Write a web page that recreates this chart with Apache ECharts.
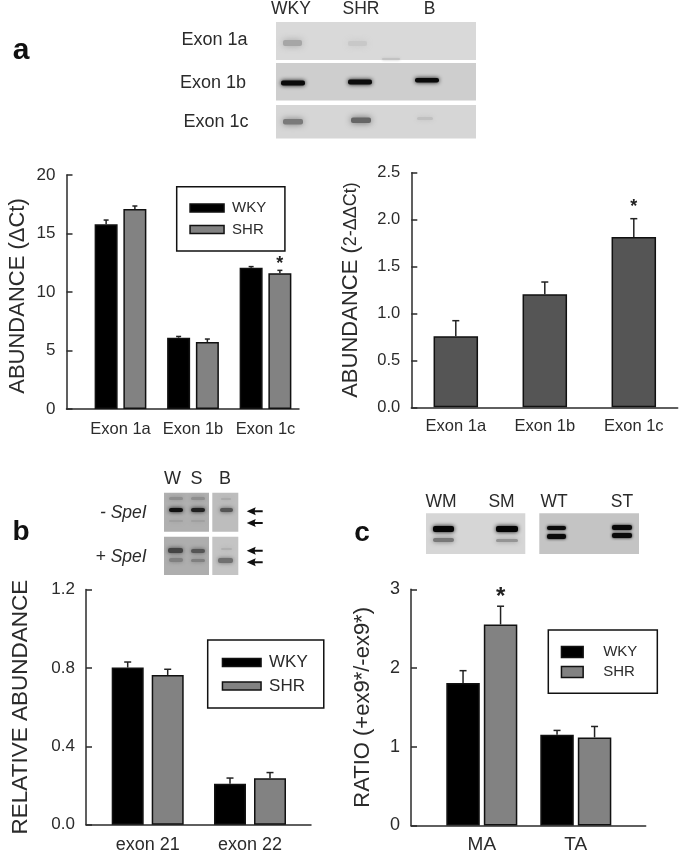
<!DOCTYPE html>
<html>
<head>
<meta charset="utf-8">
<style>html,body{margin:0;padding:0;background:#fff}#c{width:680px;height:853px}</style>
<script src="https://cdn.jsdelivr.net/npm/echarts@6/dist/echarts.min.js"></script>
</head>
<body>
<div id="c"></div>
<script>
// ---------- data ----------
const exonCats = ['Exon 1a', 'Exon 1b', 'Exon 1c'];
const deltaWky = [15.78, 6.1, 12.08];
const deltaWkyTop = [16.15, 6.2, 12.17];
const deltaShr = [17.09, 5.73, 11.6];
const deltaShrTop = [17.35, 5.98, 11.85];
const ddVals = [0.756, 1.204, 1.815];
const ddTop = [0.923, 1.335, 2.01];
const relCats = ['exon 21', 'exon 22'];
const relWky = [0.802, 0.209];
const relWkyTop = [0.83, 0.238];
const relShr = [0.764, 0.237];
const relShrTop = [0.793, 0.266];
const ratioCats = ['MA', 'TA'];
const ratioWky = [1.81, 1.152];
const ratioWkyTop = [1.966, 1.207];
const ratioShr = [2.553, 1.118];
const ratioShrTop = [2.785, 1.257];

const FONT = '"Liberation Sans", Arial, sans-serif';
const INK = '#2b2b2b';
const BLACK = '#000000';
const GREY = '#828282';
const DARK = '#555555';

const grid = [], xAxis = [], yAxis = [], series = [], legend = [], graphic = [];

function panel(p) {
  const i = grid.length;
  const left = p.axisX, width = p.endX - p.axisX;
  grid.push({left, width, top: p.topY, height: p.zeroY - p.topY, containLabel: false, outerBoundsMode: 'none'});
  const xMin = -(p.firstCenter - p.axisX) / p.spacing;
  xAxis.push({
    type: 'value', gridIndex: i, min: xMin, max: xMin + width / p.spacing, splitLine: {show: false},
    axisLine: {show: true, onZero: false, lineStyle: {color: INK, width: 1.5}},
    axisTick: {show: false},
    axisLabel: {customValues: p.cats.map((_, k) => k), formatter: v => p.cats[v],
      color: INK, fontFamily: FONT, fontSize: p.xFont, margin: p.xMargin, hideOverlap: false}
  });
  yAxis.push({
    type: 'value', gridIndex: i, min: 0, max: p.yMax, interval: p.yStep, splitLine: {show: false},
    axisLine: {show: true, onZero: false, lineStyle: {color: INK, width: 1.5}},
    axisTick: {show: true, inside: true, length: 6, lineStyle: {color: INK, width: 1.5}},
    axisLabel: {color: INK, fontFamily: FONT, fontSize: p.yFont, margin: 11, formatter: p.yFmt},
    name: p.yName, nameLocation: 'middle', nameGap: p.nameGap, nameMoveOverlap: false,
    nameTextStyle: Object.assign({color: INK, fontFamily: FONT, fontSize: p.nameFont, padding: p.namePad}, p.nameExtra || {})
  });
  p.bars.forEach((b, k) => {
    series.push({
      type: 'bar', name: b.name, xAxisIndex: i, yAxisIndex: i, barWidth: p.barWidth, barGap: p.barGap,
      itemStyle: {color: b.color, borderColor: '#111', borderWidth: 1.5},
      data: b.vals.map((v, c) => [c, v]), silent: true
    });
    const off = p.bars.length === 1 ? 0 : (k === 0 ? -1 : 1) * p.barWidth * (1 + parseFloat(p.barGap) / 100) / 2;
    series.push({
      type: 'custom', name: b.name + ' error', xAxisIndex: i, yAxisIndex: i, silent: true, clip: false, z: 1,
      data: b.vals.map((v, c) => [c, v, b.tops[c]]),
      renderItem(params, api) {
        const c = api.value(0);
        const a = api.coord([c, api.value(1)]), t = api.coord([c, api.value(2)]);
        const x = a[0] + off, st = {stroke: '#222', lineWidth: 1.5};
        const kids = [
          {type: 'line', shape: {x1: x, y1: a[1], x2: x, y2: t[1]}, style: st},
          {type: 'line', shape: {x1: x - p.cap, y1: t[1], x2: x + p.cap, y2: t[1]}, style: st}
        ];
        if (b.star === c) kids.push({type: 'text', style: {text: '*', x, y: t[1] - p.starGap, fill: '#222',
          font: 'bold ' + p.starFont + 'px ' + FONT, textAlign: 'center', textVerticalAlign: 'middle'}});
        return {type: 'group', children: kids};
      }
    });
  });
  if (p.legend) legend.push(Object.assign({
    orient: 'vertical', selectedMode: false, icon: 'rect', data: ['WKY', 'SHR'], backgroundColor: '#fff',
    borderColor: '#111', borderWidth: 1.5, itemStyle: {borderColor: '#111', borderWidth: 1.5}
  }, p.legend));
}

panel({
  axisX: 66.5, endX: 299, topY: 175, zeroY: 409, firstCenter: 120.5, spacing: 72.5, cats: exonCats,
  yMax: 20, yStep: 5, xFont: 16.5, yFont: 17, xMargin: 12, barWidth: 23, barGap: '25%', cap: 2.5, starGap: 6, starFont: 18,
  yName: 'ABUNDANCE (\u0394Ct)', nameGap: 38, nameFont: 22, namePad: [0, 8, 0, 0],
  bars: [{name: 'WKY', color: BLACK, vals: deltaWky, tops: deltaWkyTop},
         {name: 'SHR', color: GREY, vals: deltaShr, tops: deltaShrTop, star: 2}],
  legend: {left: 176.7, top: 186.7, padding: [13.3, 18.7, 13.5, 12.6], itemWidth: 34, itemHeight: 8, itemGap: 5.5,
    textStyle: {color: INK, fontFamily: FONT, fontSize: 15, lineHeight: 16, padding: [0, 0, 0, 3]}}
});
panel({
  axisX: 411.3, endX: 677.7, topY: 172.7, zeroY: 407.3, firstCenter: 455.8, spacing: 89, cats: exonCats,
  yMax: 2.5, yStep: 0.5, xFont: 16.5, yFont: 16.5, xMargin: 11, barWidth: 44.5, barGap: '0%', cap: 3.5, starGap: 12, starFont: 18,
  yFmt: v => v.toFixed(1),
  yName: '{a|ABUNDANCE (}{b|2-\u0394\u0394Ct)}', nameGap: 49, nameFont: 22, namePad: [0, 0, 0, 0],
  nameExtra: {rich: {a: {fontSize: 22, color: INK, fontFamily: FONT}, b: {fontSize: 18, color: INK, fontFamily: FONT}}},
  bars: [{name: 'Relative', color: DARK, vals: ddVals, tops: ddTop, star: 2}]
});
panel({
  axisX: 86, endX: 311, topY: 589.5, zeroY: 824.7, firstCenter: 147.7, spacing: 102.3, cats: relCats,
  yMax: 1.2, yStep: 0.4, xFont: 18, yFont: 17, xMargin: 11, barWidth: 32, barGap: '25%', cap: 3.5, starGap: 13, starFont: 22,
  yFmt: v => v.toFixed(1),
  yName: 'RELATIVE ABUNDANCE', nameGap: 54, nameFont: 22.5, namePad: [0, 0, 0, 0],
  bars: [{name: 'WKY', color: BLACK, vals: relWky, tops: relWkyTop},
         {name: 'SHR', color: GREY, vals: relShr, tops: relShrTop}],
  legend: {left: 207.7, top: 640, padding: [14, 16, 13.5, 14], itemWidth: 38.6, itemHeight: 8, itemGap: 6.5,
    textStyle: {color: INK, fontFamily: FONT, fontSize: 17, lineHeight: 16, padding: [0, 0, 0, 3]}}
});
panel({
  axisX: 411, endX: 645.7, topY: 589.3, zeroY: 825.4, firstCenter: 481.8, spacing: 94, cats: ratioCats,
  yMax: 3, yStep: 1, xFont: 19, yFont: 18, xMargin: 10, barWidth: 33.5, barGap: '12%', cap: 3.5, starGap: 8.5, starFont: 24,
  yName: 'RATIO (+ex9*/-ex9*)', nameGap: 37, nameFont: 22, namePad: [0, 0, 0, 0],
  bars: [{name: 'WKY', color: BLACK, vals: ratioWky, tops: ratioWkyTop},
         {name: 'SHR', color: GREY, vals: ratioShr, tops: ratioShrTop, star: 0}],
  legend: {left: 548.3, top: 630, padding: [14.5, 20, 13.8, 12.4], itemWidth: 21.7, itemHeight: 11, itemGap: 5,
    textStyle: {color: INK, fontFamily: FONT, fontSize: 15, lineHeight: 15, padding: [0, 0, 0, 15]}}
});

// ---------- gel photographs and their captions ----------
function rect(x, y, w, h, fill, blur) {
  graphic.push({type: 'rect', silent: true, shape: {x, y, width: w, height: h, r: blur ? Math.min(h / 2, 2) : 0},
    style: {fill, shadowColor: fill, shadowBlur: blur || 0}});
}
function text(s, x, y, size, opt) {
  opt = opt || {};
  graphic.push({type: 'text', silent: true, style: {text: s, x, y, fill: opt.fill || INK, textAlign: opt.align || 'center', textVerticalAlign: 'middle',
    font: (opt.style || '') + ' ' + size + 'px ' + FONT}});
}
function arrow(x, y) {
  graphic.push({type: 'polygon', silent: true, shape: {points: [[x, y], [x + 9, y - 4], [x + 8, y - 1], [x + 16, y - 1], [x + 16, y + 1], [x + 8, y + 1], [x + 9, y + 4]]}, style: {fill: '#111'}});
}

const gelBackgrounds = [
  [276, 22, 200, 38, '#d9d9d9'], [276, 63, 200, 37.5, '#cecece'], [276, 105, 200, 33.5, '#d6d6d6'],
  [164, 492.7, 45, 39, '#b0b0b0'], [212.3, 492.7, 26, 39, '#bdbdbd'], [164, 536.7, 45, 38.3, '#aeaeae'], [212.3, 536.7, 26, 38.3, '#c4c4c4'],
  [426, 513.3, 99.3, 40.7, '#d6d6d6'], [539.3, 513.3, 99.7, 40.7, '#c4c4c4']
];
gelBackgrounds.forEach(g => rect(g[0], g[1], g[2], g[3], g[4]));
const gelBands = [
  [283, 40, 19, 6, '#a6a6a6', 7], [348, 41, 19, 5, '#c8c8c8', 7], [382, 58, 18, 2, '#c2c2c2', 3],
  [281, 80.5, 24, 5, '#0a0a0a', 4], [348, 79.5, 24, 5, '#0d0d0d', 4], [415, 78, 24, 4.5, '#0a0a0a', 4],
  [283, 119, 20, 5.5, '#7a7a7a', 6], [351, 117.5, 20, 5.5, '#666666', 6], [417, 117, 16, 3, '#c0c0c0', 5],
  [169, 497, 14, 3, '#8e8e8e', 4], [191, 497, 14, 3, '#8e8e8e', 4], [221, 498, 10, 2, '#aaaaaa', 4],
  [169, 508, 14, 4, '#101010', 4], [191, 508, 14, 4, '#202020', 4], [220, 508, 13, 4, '#555555', 4],
  [169, 520, 14, 2, '#a0a0a0', 4], [191, 520, 14, 2, '#a0a0a0', 4],
  [168, 548, 15, 5, '#444444', 4], [191, 549, 14, 4, '#555555', 4], [221, 548, 11, 2, '#b0b0b0', 4],
  [169, 558, 14, 4, '#808080', 4], [191, 559, 14, 3, '#808080', 4], [218, 558, 15, 5, '#707070', 4],
  [433, 526, 21, 6, '#050505', 4], [496, 526, 22, 6, '#050505', 4], [433, 538, 21, 4, '#787878', 5], [496, 539, 22, 3, '#959595', 5],
  [547, 526, 19, 4, '#0a0a0a', 3], [547, 534, 19, 5, '#0a0a0a', 3], [612, 525, 20, 5, '#0a0a0a', 3], [612, 533, 20, 5, '#0a0a0a', 3]
];
gelBands.forEach(b => rect(b[0], b[1], b[2], b[3], b[4], b[5]));
[[246.7, 511.3], [246.7, 523], [246.7, 550.7], [246.7, 562.3]].forEach(a => arrow(a[0], a[1]));

text('WKY', 291, 9, 17.5);
text('SHR', 361, 9, 17.5);
text('B', 429.5, 9, 17.5);
text('Exon 1a', 214.5, 40.5, 18);
text('Exon 1b', 213, 83, 18);
text('Exon 1c', 216, 122.5, 18);
text('W', 172.5, 479, 18);
text('S', 196.5, 479, 18);
text('B', 225, 479, 18);
text('- SpeI', 146.7, 513, 17.5, {align: 'right', style: 'italic'});
text('+ SpeI', 146.7, 557, 17.5, {align: 'right', style: 'italic'});
text('WM', 441, 502, 17.5);
text('SM', 501.5, 502, 17.5);
text('WT', 554, 502, 17.5);
text('ST', 622, 502, 17.5);
text('a', 21, 51, 30, {style: 'bold', fill: '#111'});
text('b', 21, 532, 28, {style: 'bold', fill: '#111'});
text('c', 362, 533, 28, {style: 'bold', fill: '#111'});

const chart = echarts.init(document.getElementById('c'), null, {renderer: 'canvas'});
chart.setOption({animation: false, backgroundColor: '#fff', tooltip: {show: false}, grid, xAxis, yAxis, series, legend, graphic});
</script>
</body>
</html>
